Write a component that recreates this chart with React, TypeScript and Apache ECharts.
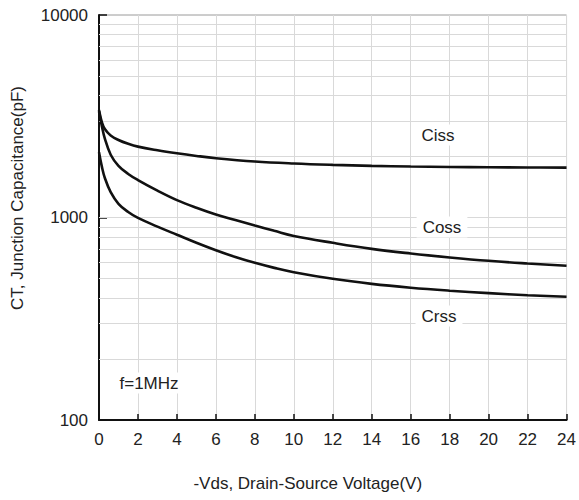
import React, { useEffect, useRef } from "react";
import * as echarts from "echarts";

// -Vds (V) and capacitance (pF)
const cissV = [0, 0.15, 0.3, 0.6, 1, 1.5, 2, 3, 4, 5, 6, 8, 10, 12, 14, 16, 18, 20, 22, 24];
const cissC = [3396, 2951, 2735, 2541, 2415, 2312, 2239, 2148, 2075, 2014, 1963, 1892, 1849, 1820, 1799, 1785, 1776, 1770, 1766, 1764];

const cossV = [0, 0.15, 0.3, 0.6, 1, 1.5, 2, 3, 4, 5, 6, 7, 8, 9, 10, 12, 14, 16, 18, 20, 22, 24];
const cossC = [3350, 2818, 2455, 2042, 1799, 1641, 1531, 1358, 1219, 1117, 1035, 971, 912, 859, 811, 750, 700, 664, 635, 611, 593, 578];

const crssV = [0, 0.15, 0.3, 0.6, 1, 1.5, 2, 3, 4, 5, 6, 7, 8, 9, 10, 12, 14, 16, 18, 20, 22, 24];
const crssC = [2099, 1778, 1567, 1334, 1169, 1064, 995, 902, 822, 750, 689, 638, 597, 564, 537, 498, 470, 450, 435, 423, 413, 406];

// log grid lines (pF)
const gridValues = [200, 300, 400, 500, 600, 700, 800, 900, 1000, 2000, 3000, 4000, 5000, 6000, 7000, 8000, 9000];

const xTicks = { min: 0, max: 24, interval: 2 };
const yRange = { min: 100, max: 10000 };

const seriesNames = ["Ciss", "Coss", "Crss"];
const noteText = "f=1MHz";

const FONT = "'Liberation Sans', Arial, sans-serif";
const FS = 17;

function zip(xs: number[], ys: number[]) {
  return xs.map((x, i) => [x, ys[i]]);
}

export default function App() {
  const ref = useRef<HTMLDivElement>(null);

  useEffect(() => {
    if (!ref.current) return;
    const chart = echarts.init(ref.current, undefined, { renderer: "svg" });

    const lineSeries = (name: string, data: number[][]) => ({
      name,
      type: "line",
      data,
      symbol: "none",
      smooth: 0.4,
      lineStyle: { color: "#111", width: 2.6 },
      z: 5,
    });

    const labelText = (text: string, x: number, y: number) => ({
      type: "text",
      x,
      y,
      z: 10,
      style: {
        text,
        fill: "#222",
        font: `${FS}px ${FONT}`,
        align: "center",
        verticalAlign: "middle",
        backgroundColor: "#fff",
        padding: [2, 6, 2, 6],
      },
    });

    chart.setOption({
      animation: false,
      backgroundColor: "#fff",
      grid: {
        left: 99,
        right: 9,
        top: 15,
        bottom: 80,
        show: true,
        borderColor: "#9a9a9a",
        borderWidth: 1,
      },
      xAxis: {
        type: "value",
        min: xTicks.min,
        max: xTicks.max,
        interval: xTicks.interval,
        name: "-Vds, Drain-Source Voltage(V)",
        nameLocation: "middle",
        nameGap: 55,
        nameTextStyle: { fontFamily: FONT, fontSize: FS, color: "#222", padding: [0, 50, 0, 0] },
        axisLine: { show: true, lineStyle: { color: "#111", width: 2 } },
        axisTick: { show: true, inside: true, length: 6, lineStyle: { color: "#111", width: 1.5 } },
        axisLabel: { fontFamily: FONT, fontSize: FS, color: "#222", margin: 11 },
        splitLine: { show: true, lineStyle: { color: "#d9d9d9", width: 1 } },
      },
      yAxis: {
        type: "log",
        logBase: 10,
        min: yRange.min,
        max: yRange.max,
        name: "CT, Junction Capacitance(pF)",
        nameLocation: "middle",
        nameGap: 73,
        nameTextStyle: { fontFamily: FONT, fontSize: FS, color: "#222", padding: [0, 0, 0, 39] },
        axisLine: { show: true, lineStyle: { color: "#111", width: 2 } },
        axisTick: { show: true, inside: true, length: 8, lineStyle: { color: "#111", width: 1.5 } },
        axisLabel: {
          fontFamily: FONT,
          fontSize: FS,
          color: "#222",
          margin: 11,
          formatter: (v: number) => String(Math.round(v)),
        },
        splitLine: { show: false },
        minorTick: { show: false },
      },
      graphic: [
        labelText(seriesNames[0], 438, 135),
        labelText(seriesNames[1], 442, 227),
        labelText(seriesNames[2], 439, 316),
        labelText(noteText, 149, 383),
      ],
      series: [
        {
          ...lineSeries(seriesNames[0], zip(cissV, cissC)),
          markLine: {
            silent: true,
            symbol: "none",
            label: { show: false },
            lineStyle: { color: "#d9d9d9", width: 1, type: "solid" },
            z: 1,
            data: gridValues.map((v) => ({ yAxis: v })),
          },
        },
        lineSeries(seriesNames[1], zip(cossV, cossC)),
        lineSeries(seriesNames[2], zip(crssV, crssC)),
      ],
    });

    return () => chart.dispose();
  }, []);

  return (
    <div
      ref={ref}
      style={{ position: "absolute", left: 0, top: 0, width: 579, height: 500 }}
    />
  );
}
